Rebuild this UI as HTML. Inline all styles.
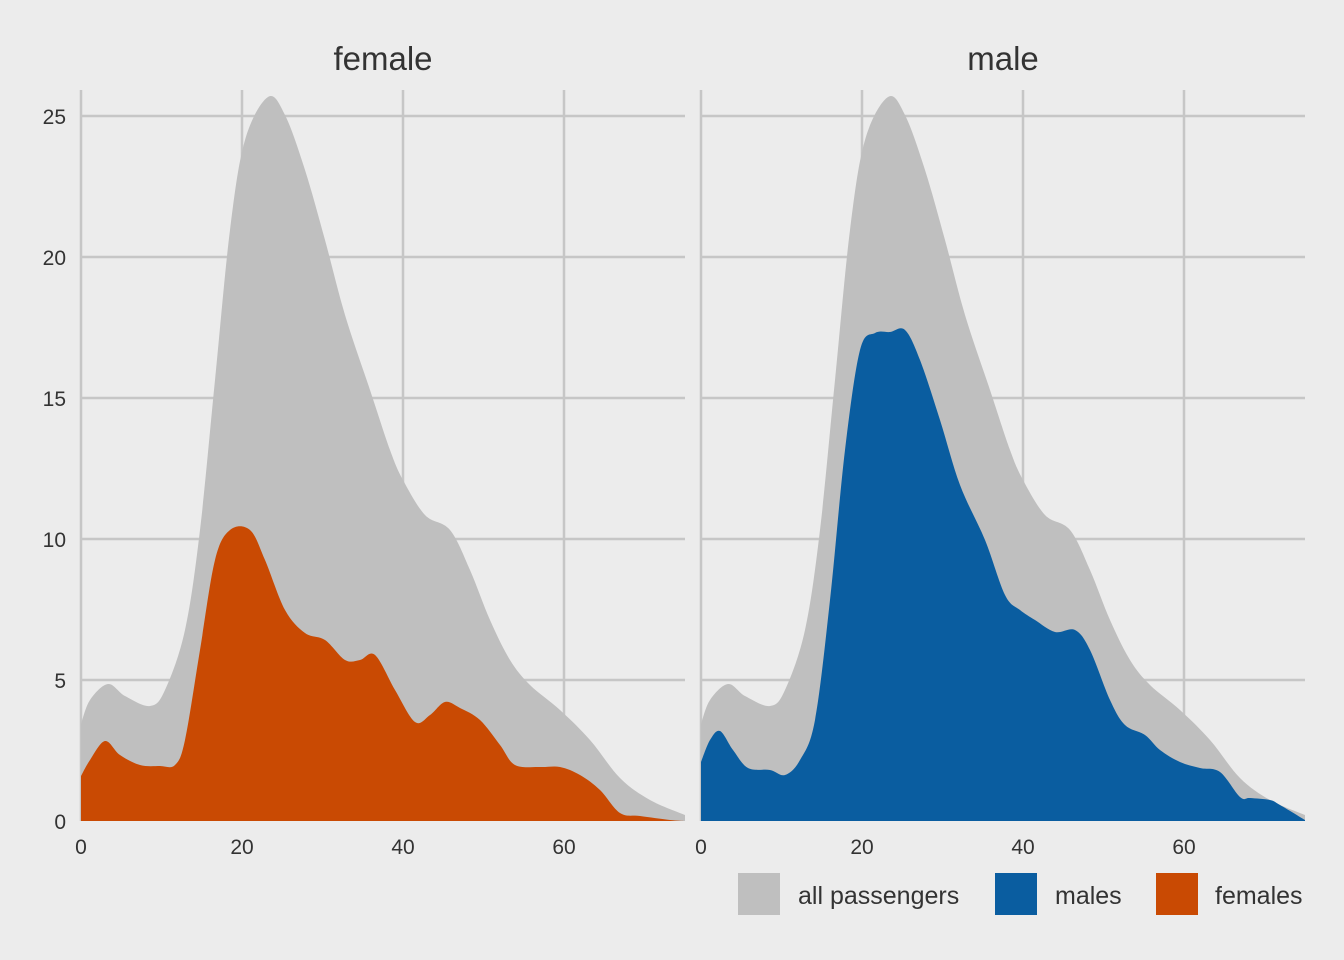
<!DOCTYPE html>
<html><head><meta charset="utf-8"><style>
html,body{margin:0;padding:0;background:#ececec;width:1344px;height:960px;overflow:hidden;}
svg{display:block;}
svg text{font-family:"Liberation Sans",sans-serif;fill:#333;}
</style></head><body>
<svg id="s" width="1344" height="960" viewBox="0 0 1344 960" xmlns="http://www.w3.org/2000/svg">
<rect width="1344" height="960" fill="#ececec"/>
<g stroke="#c6c6c6" stroke-width="2.5" fill="none">
<line x1="81" y1="116" x2="685" y2="116"/><line x1="81" y1="257" x2="685" y2="257"/><line x1="81" y1="398" x2="685" y2="398"/><line x1="81" y1="539" x2="685" y2="539"/><line x1="81" y1="680" x2="685" y2="680"/>
<line x1="81" y1="90" x2="81" y2="821"/><line x1="242" y1="90" x2="242" y2="821"/><line x1="403" y1="90" x2="403" y2="821"/><line x1="564" y1="90" x2="564" y2="821"/>
<line x1="701" y1="116" x2="1305" y2="116"/><line x1="701" y1="257" x2="1305" y2="257"/><line x1="701" y1="398" x2="1305" y2="398"/><line x1="701" y1="539" x2="1305" y2="539"/><line x1="701" y1="680" x2="1305" y2="680"/>
<line x1="701" y1="90" x2="701" y2="821"/><line x1="862" y1="90" x2="862" y2="821"/><line x1="1023" y1="90" x2="1023" y2="821"/><line x1="1184" y1="90" x2="1184" y2="821"/>
</g>
<path id="g1" fill="#bfbfbf"/><path id="f1" fill="#c94a03"/>
<path id="g2" fill="#bfbfbf"/><path id="m2" fill="#0a5da0"/>
<g font-size="33" text-anchor="middle"><text x="383" y="70">female</text><text x="1003" y="70">male</text></g>
<g font-size="21" text-anchor="end"><text x="66" y="124">25</text><text x="66" y="265">20</text><text x="66" y="406">15</text><text x="66" y="547">10</text><text x="66" y="688">5</text><text x="66" y="829">0</text></g>
<g font-size="21" text-anchor="middle"><text x="81" y="854">0</text><text x="242" y="854">20</text><text x="403" y="854">40</text><text x="564" y="854">60</text>
<text x="701" y="854">0</text><text x="862" y="854">20</text><text x="1023" y="854">40</text><text x="1184" y="854">60</text></g>
<rect x="738" y="873" width="42" height="42" fill="#bfbfbf"/><rect x="995" y="873" width="42" height="42" fill="#0a5da0"/><rect x="1156" y="873" width="42" height="42" fill="#c94a03"/>
<g font-size="25"><text x="798" y="904">all passengers</text><text x="1055" y="904">males</text><text x="1215" y="904">females</text></g>
</svg>
<script>
var G=[[81,724],[90,700],[108,684],[125,696],[150,706],[165,690],[185,630],[200,530],[215,380],[230,230],[245,140],[268,97],[285,115],[305,170],[325,240],[345,315],[370,390],[390,450],[403,480],[425,515],[450,530],[470,570],[490,620],[510,660],[530,685],[560,710],[590,740],[620,778],[650,800],[685,815]];
var F=[[81,776],[90,760],[105,741],[120,755],[140,765],[160,766],[175,765],[185,740],[200,650],[215,560],[230,530],[250,530],[265,560],[285,610],[305,633],[325,640],[345,660],[360,660],[375,655],[395,690],[415,722],[430,715],[445,702],[460,708],[480,720],[500,745],[515,765],[540,767],[560,767],[580,775],[600,790],[620,813],[640,816],[670,820],[685,821]];
var M=[[701,762],[710,740],[720,731],[733,750],[748,768],[770,770],[785,775],[800,760],[815,720],[830,600],[845,450],[860,350],[875,333],[890,332],[905,330],[920,360],[940,420],[960,485],[985,540],[1005,595],[1020,610],[1035,620],[1055,632],[1075,630],[1090,650],[1110,700],[1125,725],[1145,735],[1160,750],[1180,762],[1200,768],[1220,772],[1240,797],[1250,798],[1270,800],[1280,805],[1305,820]];
function sm(p){var d="M"+p[0][0]+","+821+" L"+p[0][0]+","+p[0][1];
for(var i=0;i<p.length-1;i++){var a=p[i-1]||p[i],b=p[i],c=p[i+1],e=p[i+2]||c;
d+=" C"+(b[0]+(c[0]-a[0])/6)+","+(b[1]+(c[1]-a[1])/6)+" "+(c[0]-(e[0]-b[0])/6)+","+(c[1]-(e[1]-b[1])/6)+" "+c[0]+","+c[1];}
return d+" L"+p[p.length-1][0]+",821 Z";}
document.getElementById("g1").setAttribute("d",sm(G));
document.getElementById("f1").setAttribute("d",sm(F));
document.getElementById("g2").setAttribute("d",sm(G.map(function(q){return[q[0]+620,q[1]]})));
document.getElementById("m2").setAttribute("d",sm(M));
</script>
</body></html>
